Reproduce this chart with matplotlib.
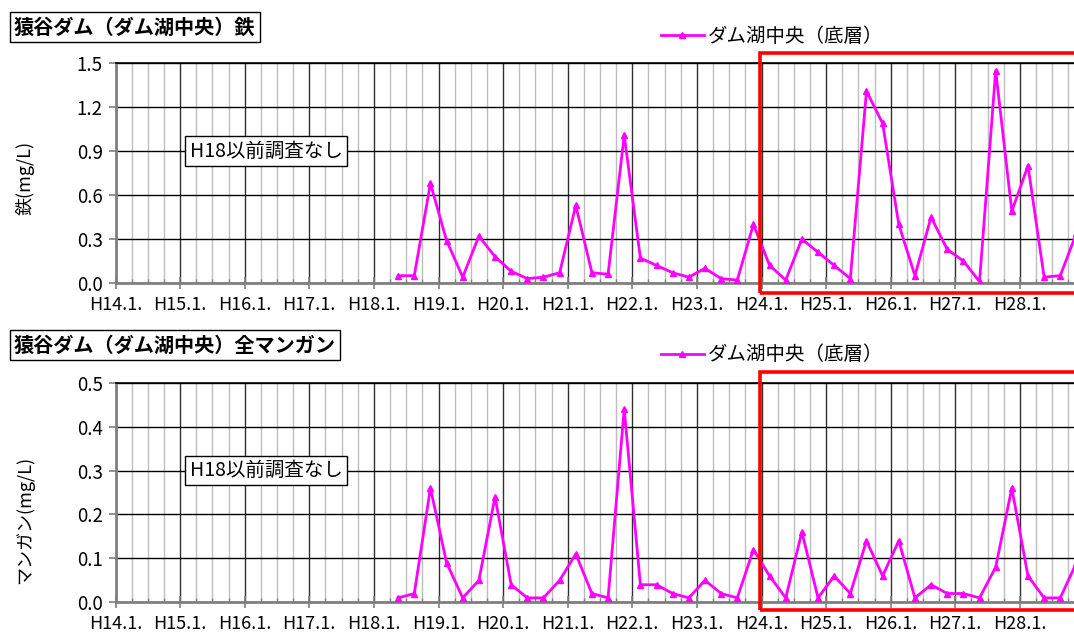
import matplotlib
matplotlib.use('Agg')
import matplotlib.pyplot as plt
import matplotlib.transforms as mtransforms
from matplotlib.patches import Rectangle
from matplotlib.ticker import FixedLocator, MultipleLocator, FormatStrFormatter

plt.rcParams['font.family'] = ['Noto Sans CJK JP', 'DejaVu Sans']

# sampling dates (Heisei year, month) - quarterly survey from H18.5
sample_years = [18, 18, 18,
                19, 19, 19, 19, 20, 20, 20, 20, 21, 21, 21, 21,
                22, 22, 22, 22, 23, 23, 23, 23, 24, 24, 24, 24,
                25, 25, 25, 25, 26, 26, 26, 26, 27, 27, 27, 27,
                28, 28, 28, 28]
sample_months = [5, 8, 11,
                 2, 5, 8, 11, 2, 5, 8, 11, 2, 5, 8, 11,
                 2, 5, 8, 11, 2, 5, 8, 11, 2, 5, 8, 11,
                 2, 5, 8, 11, 2, 5, 8, 11, 2, 5, 8, 11,
                 2, 5, 8, 11]

# iron (mg/L), dam lake centre, bottom layer
iron = [0.05, 0.05, 0.68, 0.29, 0.04, 0.32, 0.18, 0.08, 0.03, 0.04, 0.07,
        0.53, 0.07, 0.06, 1.01, 0.17, 0.12, 0.07, 0.04, 0.10, 0.03, 0.02,
        0.40, 0.12, 0.02, 0.30, 0.21, 0.12, 0.03, 1.31, 1.09, 0.40, 0.05,
        0.45, 0.23, 0.15, 0.01, 1.45, 0.49, 0.80, 0.04, 0.05, 0.34]

# total manganese (mg/L)
manganese = [0.01, 0.02, 0.26, 0.09, 0.01, 0.05, 0.24, 0.04, 0.01, 0.01, 0.05,
             0.11, 0.02, 0.01, 0.44, 0.04, 0.04, 0.02, 0.01, 0.05, 0.02, 0.01,
             0.12, 0.06, 0.01, 0.16, 0.01, 0.06, 0.02, 0.14, 0.06, 0.14, 0.01,
             0.04, 0.02, 0.02, 0.01, 0.08, 0.26, 0.06, 0.01, 0.01, 0.09]

year_ticks = list(range(14, 29))
year_labels = [f'H{y}.1.' for y in year_ticks]

series_label = 'ダム湖中央（底層）'
note_text = 'H18以前調査なし'

# x position of each sample: year + mid-month fraction
x_dates = [y + (m - 0.5) / 12 for y, m in zip(sample_years, sample_months)]

W, H = 1074, 634
fig = plt.figure(figsize=(W / 100, H / 100), dpi=100)

panels = [
    dict(title='猿谷ダム（ダム湖中央）鉄', ylabel='鉄(mg/L)', values=iron,
         ymax=1.5, ystep=0.3, top=63.3, bottom=283.0, title_y=27, legend_y=36,
         ylabel_y=178, note_y=0.9, rect=(-0.045, 1.045)),
    dict(title='猿谷ダム（ダム湖中央）全マンガン', ylabel='マンガン(mg/L)', values=manganese,
         ymax=0.5, ystep=0.1, top=382.7, bottom=602.3, title_y=345, legend_y=355,
         ylabel_y=520, note_y=0.3, rect=(-0.035, 1.047)),
]

left_px = 115.5
for p in panels:
    ax = fig.add_axes([left_px / W, 1 - p['bottom'] / H,
                       (W - left_px) / W, (p['bottom'] - p['top']) / H])
    ax.set_xlim(14, 14 + (W - left_px) / 64.6)
    ax.set_ylim(0, p['ymax'])

    # grid
    ax.xaxis.set_major_locator(FixedLocator(year_ticks))
    ax.xaxis.set_minor_locator(MultipleLocator(0.25))
    ax.set_xticklabels(year_labels)
    ax.yaxis.set_major_locator(MultipleLocator(p['ystep']))
    ax.yaxis.set_major_formatter(FormatStrFormatter('%.1f'))
    ax.grid(True, which='major', axis='y', color='black', linewidth=1.0)
    ax.grid(True, which='major', axis='x', color='#303030', linewidth=1.0)
    ax.grid(True, which='minor', axis='x', color='#bdbdbd', linewidth=1.0)
    ax.set_axisbelow(True)

    for s in ['left', 'bottom']:
        ax.spines[s].set_color('#808080')
        ax.spines[s].set_linewidth(2)
    ax.spines['right'].set_visible(False)
    ax.spines['top'].set_color('black')
    ax.spines['top'].set_linewidth(1.2)

    ax.tick_params(axis='x', which='major', direction='inout', length=8, width=1.2,
                   color='#808080', labelsize=13, pad=5)
    ax.tick_params(axis='x', which='minor', direction='in', length=3, width=1,
                   color='#808080')
    ax.tick_params(axis='y', which='major', direction='out', length=5, width=1.2,
                   color='#808080', labelsize=13.5, pad=4)

    ax.plot(x_dates, p['values'], color='#ff00ff', linewidth=2, marker='^',
            markersize=5, label=series_label, zorder=3)

    ax.legend(loc='center left', bbox_to_anchor=(661 / W, 1 - p['legend_y'] / H),
              bbox_transform=fig.transFigure, frameon=False, fontsize=14,
              handlelength=2.2, handletextpad=0.2, borderpad=0, borderaxespad=0)

    ax.text(16.33, p['note_y'], note_text, fontsize=14, ha='center', va='center',
            bbox=dict(boxstyle='square,pad=0.22', fc='white', ec='black', lw=1),
            zorder=4)

    # highlight frame from H24
    trans = mtransforms.blended_transform_factory(ax.transData, ax.transAxes)
    y0, y1 = p['rect']
    ax.add_patch(Rectangle((23.97, y0), 8, y1 - y0, transform=trans, fill=False,
                           ec='#ff0000', lw=2.6, clip_on=False, zorder=5))

    fig.text(14 / W, 1 - p['title_y'] / H, p['title'], fontsize=14.5, fontweight='bold',
             ha='left', va='center',
             bbox=dict(boxstyle='square,pad=0.2', fc='white', ec='black', lw=1))
    fig.text(25 / W, 1 - p['ylabel_y'] / H, p['ylabel'], fontsize=13, rotation=90,
             ha='center', va='center')

fig.savefig('out.png', dpi=100)
